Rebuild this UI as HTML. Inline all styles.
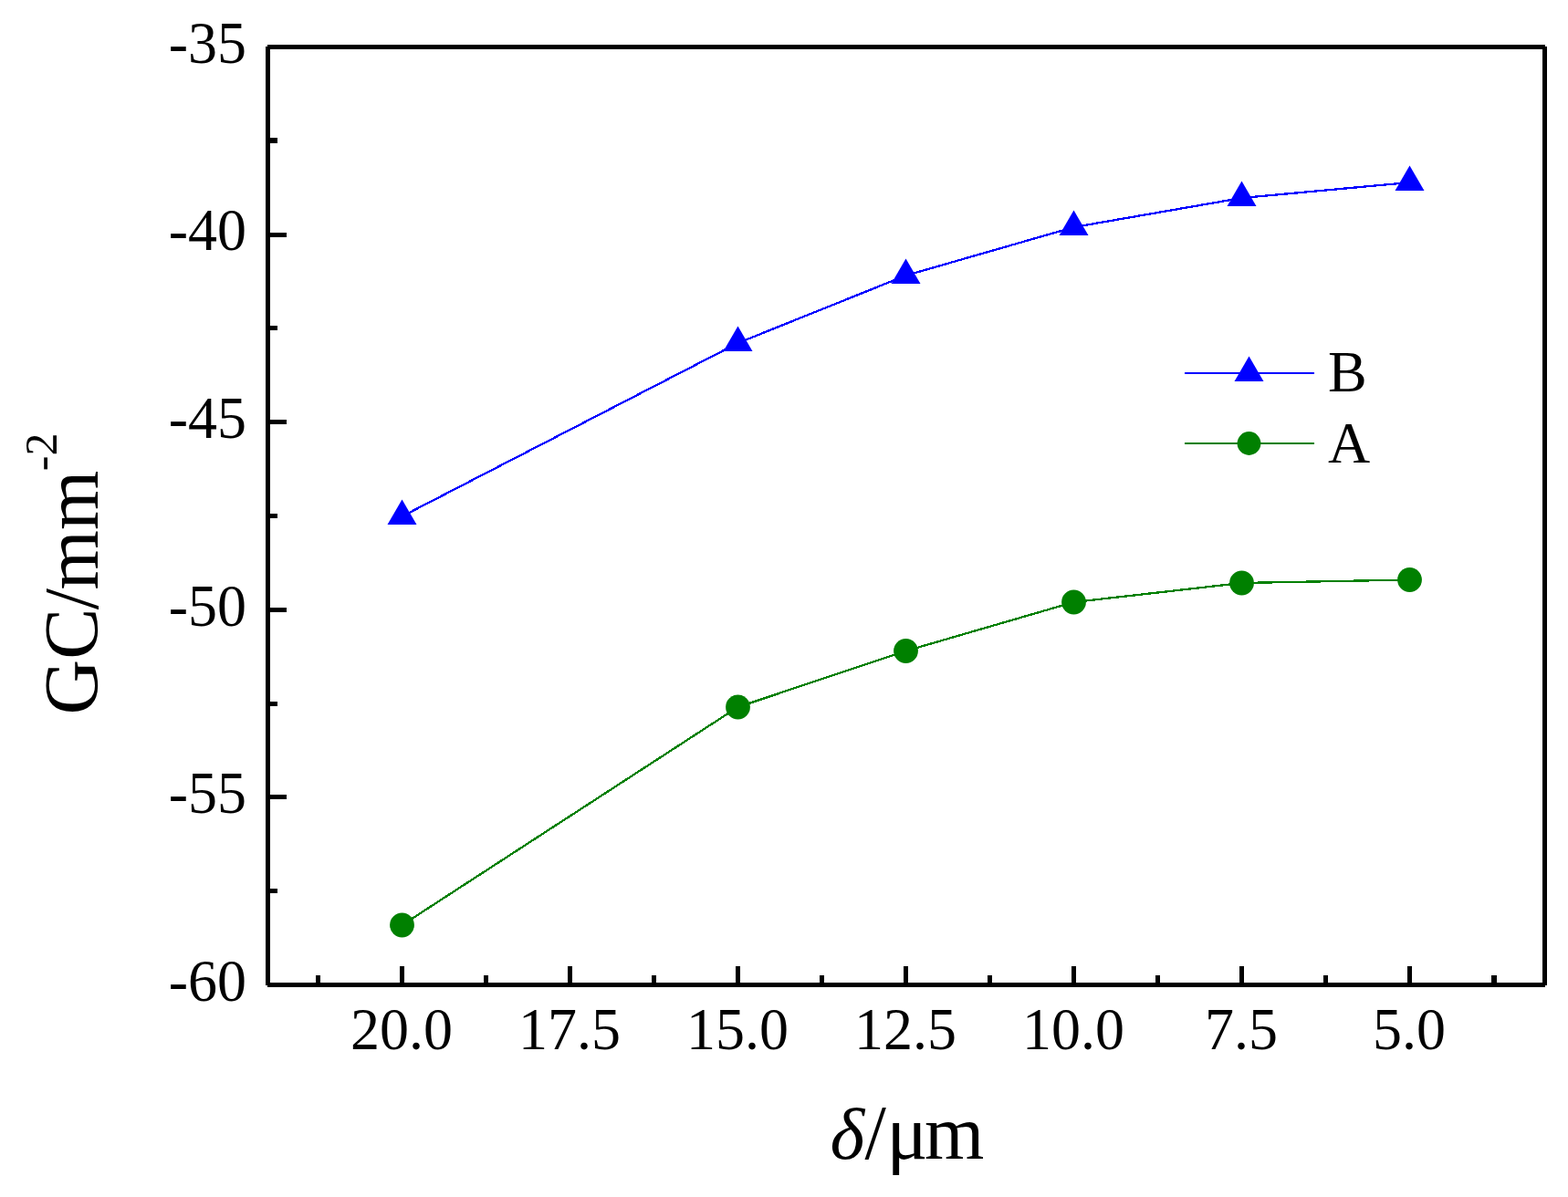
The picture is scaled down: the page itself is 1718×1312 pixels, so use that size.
<!DOCTYPE html>
<html lang="en"><head><meta charset="utf-8"><title>GC vs delta</title>
<style>html,body{margin:0;padding:0;background:#fff;}body{width:1718px;height:1312px;overflow:hidden;}svg{display:block;}text{font-family:"Liberation Serif","DejaVu Serif",serif;fill:#000;}</style>
</head><body>
<svg width="1718" height="1312" viewBox="0 0 1718 1312">
<rect x="0" y="0" width="1718" height="1312" fill="#fff"/>
<!-- series A -->
<polyline shape-rendering="crispEdges" fill="none" stroke="#008000" stroke-width="2.3" points="440.5,1014.0 808.5,775.0 992.5,713.5 1176.5,660.0 1360.5,639.0 1544.5,635.5"/>
<circle fill="#008000" cx="440.5" cy="1014.0" r="13.4"/>
<circle fill="#008000" cx="808.5" cy="775.0" r="13.4"/>
<circle fill="#008000" cx="992.5" cy="713.5" r="13.4"/>
<circle fill="#008000" cx="1176.5" cy="660.0" r="13.4"/>
<circle fill="#008000" cx="1360.5" cy="639.0" r="13.4"/>
<circle fill="#008000" cx="1544.5" cy="635.5" r="13.4"/>
<!-- series B -->
<polyline shape-rendering="crispEdges" fill="none" stroke="#0000ff" stroke-width="2.3" points="440.5,566.0 808.5,376.0 992.5,302.0 1176.5,249.0 1360.5,217.0 1544.5,200.0"/>
<polygon fill="#0000ff" points="440.5,547.5 456.5,575.0 424.5,575.0"/>
<polygon fill="#0000ff" points="808.5,357.5 824.5,385.0 792.5,385.0"/>
<polygon fill="#0000ff" points="992.5,283.5 1008.5,311.0 976.5,311.0"/>
<polygon fill="#0000ff" points="1176.5,230.5 1192.5,258.0 1160.5,258.0"/>
<polygon fill="#0000ff" points="1360.5,198.5 1376.5,226.0 1344.5,226.0"/>
<polygon fill="#0000ff" points="1544.5,181.5 1560.5,209.0 1528.5,209.0"/>
<!-- legend -->
<g shape-rendering="crispEdges"><rect x="1298" y="408" width="142" height="2" fill="#0000ff"/><rect x="1298" y="485" width="142" height="2" fill="#008000"/></g>
<polygon fill="#0000ff" points="1368.5,390.5 1384.5,418.0 1352.5,418.0"/>
<circle fill="#008000" cx="1368.5" cy="486" r="12.9"/>
<text x="1455" y="429" font-size="64">B</text>
<text x="1455" y="507" font-size="64">A</text>
<!-- frame and ticks -->
<g shape-rendering="crispEdges" fill="#000">
<rect x="293" y="49" width="1400" height="5"/>
<rect x="293" y="1077" width="1400" height="5"/>
<rect x="291" y="51" width="5" height="1029"/>
<rect x="1690" y="51" width="5" height="1029"/>
<rect x="296" y="49" width="18" height="5"/>
<rect x="296" y="255" width="18" height="5"/>
<rect x="296" y="460" width="18" height="5"/>
<rect x="296" y="666" width="18" height="5"/>
<rect x="296" y="871" width="18" height="5"/>
<rect x="296" y="1077" width="18" height="5"/>
<rect x="296" y="151" width="8" height="6"/>
<rect x="296" y="357" width="8" height="5"/>
<rect x="296" y="563" width="8" height="5"/>
<rect x="296" y="769" width="8" height="5"/>
<rect x="296" y="974" width="8" height="5"/>
<rect x="438" y="1059" width="5" height="18"/>
<rect x="622" y="1059" width="5" height="18"/>
<rect x="806" y="1059" width="5" height="18"/>
<rect x="990" y="1059" width="5" height="18"/>
<rect x="1174" y="1059" width="5" height="18"/>
<rect x="1358" y="1059" width="5" height="18"/>
<rect x="1542" y="1059" width="5" height="18"/>
<rect x="346" y="1069" width="5" height="8"/>
<rect x="530" y="1069" width="5" height="8"/>
<rect x="714" y="1069" width="5" height="8"/>
<rect x="898" y="1069" width="5" height="8"/>
<rect x="1082" y="1069" width="5" height="8"/>
<rect x="1266" y="1069" width="5" height="8"/>
<rect x="1450" y="1069" width="5" height="8"/>
<rect x="1634" y="1069" width="6" height="8"/>
</g>
<!-- tick labels -->
<text transform="translate(270,69.0) scale(1,1.02)" font-size="64" text-anchor="end">-35</text>
<text transform="translate(270,274.2) scale(1,1.02)" font-size="64" text-anchor="end">-40</text>
<text transform="translate(270,480.0) scale(1,1.02)" font-size="64" text-anchor="end">-45</text>
<text transform="translate(270,686.0) scale(1,1.02)" font-size="64" text-anchor="end">-50</text>
<text transform="translate(270,891.2) scale(1,1.02)" font-size="64" text-anchor="end">-55</text>
<text transform="translate(270,1097.0) scale(1,1.02)" font-size="64" text-anchor="end">-60</text>
<text transform="translate(440.0,1150.3) scale(1,1.02)" font-size="64" text-anchor="middle">20.0</text>
<text transform="translate(624.0,1150.3) scale(1,1.02)" font-size="64" text-anchor="middle">17.5</text>
<text transform="translate(808.0,1150.3) scale(1,1.02)" font-size="64" text-anchor="middle">15.0</text>
<text transform="translate(992.0,1150.3) scale(1,1.02)" font-size="64" text-anchor="middle">12.5</text>
<text transform="translate(1176.0,1150.3) scale(1,1.02)" font-size="64" text-anchor="middle">10.0</text>
<text transform="translate(1360.0,1150.3) scale(1,1.02)" font-size="64" text-anchor="middle">7.5</text>
<text transform="translate(1544.0,1150.3) scale(1,1.02)" font-size="64" text-anchor="middle">5.0</text>
<!-- axis titles -->
<text y="1270" font-size="84"><tspan x="909.5" font-size="81" font-style="italic">δ</tspan><tspan x="947.5">/</tspan><tspan x="971.5">μ</tspan><tspan x="1013">m</tspan></text>
<text transform="translate(106.5,783.5) rotate(-90)" font-size="84">GC<tspan dx="-1.5">/</tspan><tspan dx="-1.5">mm</tspan><tspan font-size="50" dy="-45" dx="-0.5">-2</tspan></text>
</svg>
</body></html>
